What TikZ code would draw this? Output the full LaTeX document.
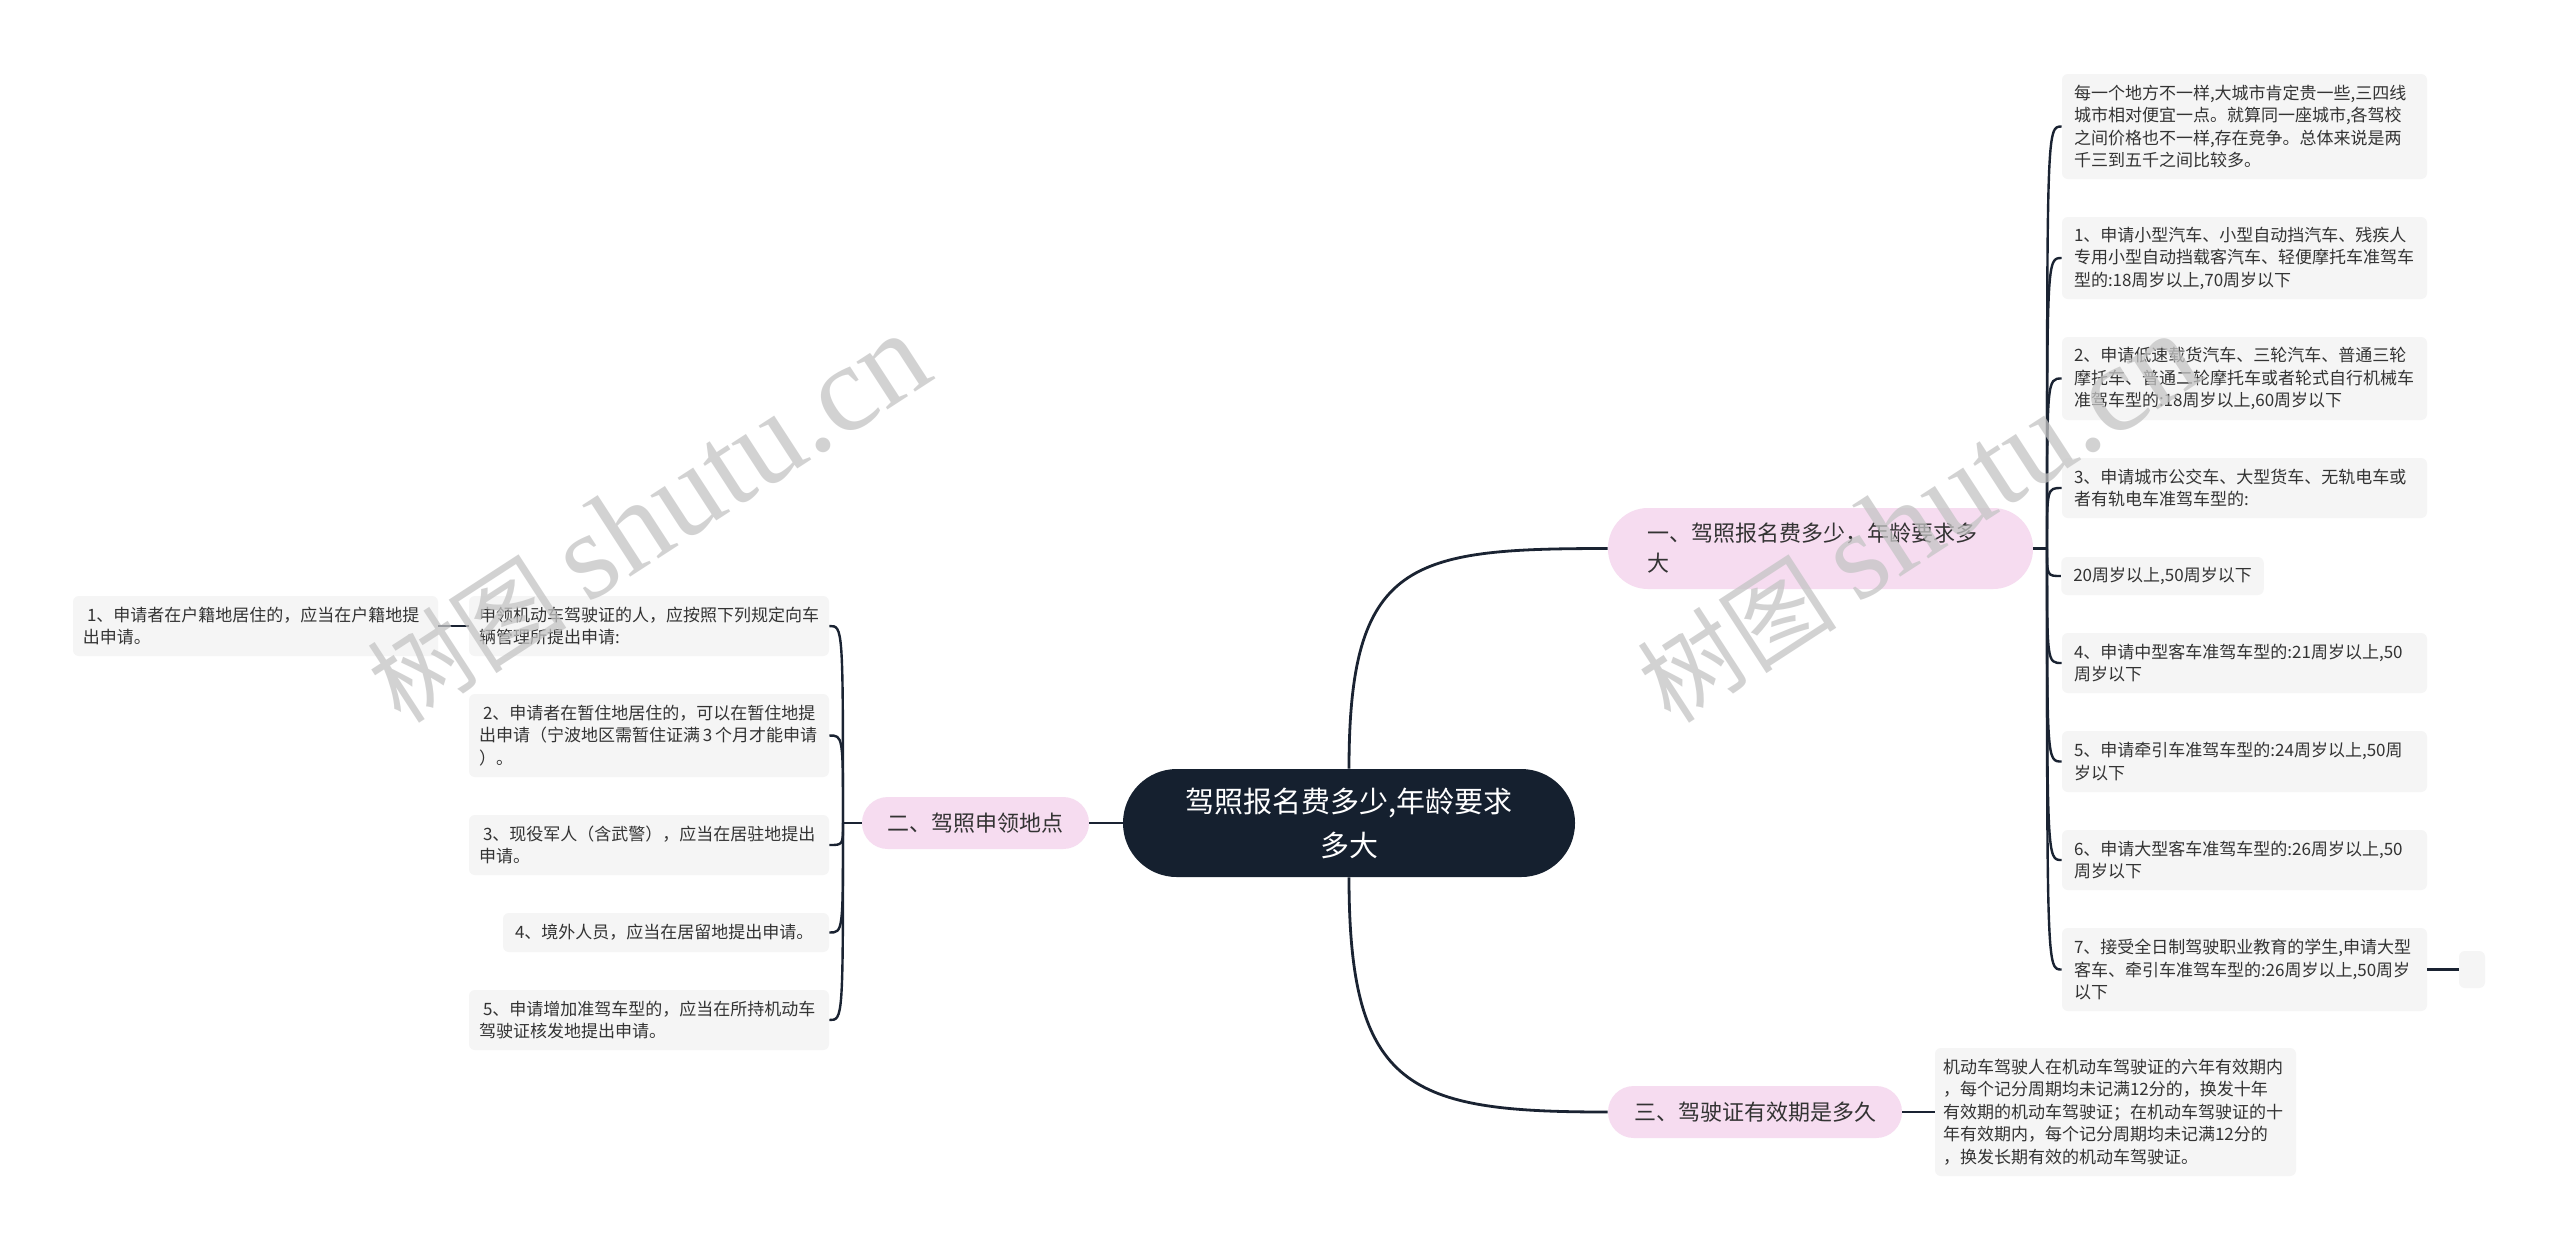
\documentclass[tikz,border=0pt]{standalone}
\usepackage{fontspec}
\setmainfont{Noto Sans CJK SC}
\newfontfamily\wmlatin{Liberation Serif}
\definecolor{rootbg}{HTML}{15202F}
\definecolor{pinkbg}{HTML}{F6DCF0}
\definecolor{leafbg}{HTML}{F5F5F5}
\definecolor{txt}{HTML}{333333}
\definecolor{wirec}{HTML}{1A2332}
\definecolor{wmc}{HTML}{C4C4C4}
\begin{document}
\begin{tikzpicture}[x=0.5pt,y=-0.5pt,
  rootnode/.style={fill=rootbg, text=white, rounded corners=26.9pt, minimum width=226pt, minimum height=54pt, inner sep=0pt, align=center, font=\fontsize{14.5pt}{22pt}\selectfont},
  pinknode/.style={fill=pinkbg, text=txt, inner sep=0pt, font=\fontsize{11pt}{15pt}\selectfont},
  leaf/.style={fill=leafbg, text=txt, rounded corners=3pt, inner xsep=6pt, inner ysep=0pt, align=left, font=\fontsize{8.5pt}{11.25pt}\selectfont},
  lleaf/.style={leaf, inner xsep=5pt},
  wire/.style={draw=wirec, line width=1.2pt},
  mainwire/.style={draw=wirec, line width=1.4pt},
  wmark/.style={text=wmc, opacity=0.75, rotate=33, inner sep=0pt}
]
\fill[white] (0,0) rectangle (2560,1250);
\useasboundingbox (0,0) rectangle (2560,1250);

% root and branches
\node[rootnode] (root) at (1349,823) {驾照报名费多少,年龄要求\\多大};
\node[pinknode, rounded corners=20pt, minimum width=212.5pt, minimum height=40.5pt, inner xsep=19.5pt, text width=173.5pt, align=left] (B1) at (1820.5,548.5) {一、驾照报名费多少，年龄要求多\\大};
\node[pinknode, rounded corners=12.9pt, minimum width=113.5pt, minimum height=26pt] (B2) at (975.5,823) {二、驾照申领地点};
\node[pinknode, rounded corners=12.9pt, minimum width=147pt, minimum height=26pt] (B3) at (1755,1112) {三、驾驶证有效期是多久};

% right leaves of branch 1
\node[leaf, minimum width=182.5pt, text width=170.5pt, minimum height=52.5pt] (L0) at (2244.5,126.5) {每一个地方不一样,大城市肯定贵一些,三四线\\城市相对便宜一点。就算同一座城市,各驾校\\之间价格也不一样,存在竞争。总体来说是两\\千三到五千之间比较多。};
\node[leaf, minimum width=182.5pt, text width=170.5pt, minimum height=41pt] (L1) at (2244.5,258) {1、申请小型汽车、小型自动挡汽车、残疾人\\专用小型自动挡载客汽车、轻便摩托车准驾车\\型的:18周岁以上,70周岁以下};
\node[leaf, minimum width=182.5pt, text width=170.5pt, minimum height=41.5pt] (L2) at (2244.5,378.5) {2、申请低速载货汽车、三轮汽车、普通三轮\\摩托车、普通二轮摩托车或者轮式自行机械车\\准驾车型的:18周岁以上,60周岁以下};
\node[leaf, minimum width=182.5pt, text width=170.5pt, minimum height=30pt] (L3) at (2244.5,488) {3、申请城市公交车、大型货车、无轨电车或\\者有轨电车准驾车型的:};
\node[leaf, minimum width=100.5pt, minimum height=19pt] (L4) at (2162.5,576) {20周岁以上,50周岁以下};
\node[leaf, minimum width=182.5pt, text width=170.5pt, minimum height=30pt] (L5) at (2244.5,663) {4、申请中型客车准驾车型的:21周岁以上,50\\周岁以下};
\node[leaf, minimum width=182.5pt, text width=170.5pt, minimum height=30.5pt] (L6) at (2244.5,761.5) {5、申请牵引车准驾车型的:24周岁以上,50周\\岁以下};
\node[leaf, minimum width=182.5pt, text width=170.5pt, minimum height=30pt] (L7) at (2244.5,860) {6、申请大型客车准驾车型的:26周岁以上,50\\周岁以下};
\node[leaf, minimum width=182.5pt, text width=170.5pt, minimum height=41.5pt] (L8) at (2244.5,969.5) {7、接受全日制驾驶职业教育的学生,申请大型\\客车、牵引车准驾车型的:26周岁以上,50周岁\\以下};
\node[leaf, minimum width=13pt, minimum height=18.5pt, inner xsep=0pt] (E) at (2472,969.5) {};

% left leaves of branch 2
\node[lleaf, minimum width=180pt, text width=170pt, minimum height=30pt] (C0) at (649,626) {申领机动车驾驶证的人，应按照下列规定向车\\辆管理所提出申请:};
\node[lleaf, minimum width=182.5pt, text width=172.5pt, minimum height=30pt] (C0a) at (255.5,626) {\hspace*{2pt}1、申请者在户籍地居住的，应当在户籍地提\\出申请。};
\node[lleaf, minimum width=180pt, text width=170pt, minimum height=41.5pt] (C1) at (649,735.5) {\hspace*{2pt}2、申请者在暂住地居住的，可以在暂住地提\\\mbox{出申请（宁波地区需暂住证满\,3\,个月才能申请}\\）。};
\node[lleaf, minimum width=180pt, text width=170pt, minimum height=30pt] (C2) at (649,845) {\hspace*{2pt}3、现役军人（含武警），应当在居驻地提出\\申请。};
\node[lleaf, minimum width=163pt, text width=151pt, inner xsep=6pt, minimum height=19.5pt] (C3) at (666,932.5) {4、境外人员，应当在居留地提出申请。};
\node[lleaf, minimum width=180pt, text width=170pt, minimum height=30pt] (C4) at (649,1020) {\hspace*{2pt}5、申请增加准驾车型的，应当在所持机动车\\驾驶证核发地提出申请。};

% leaf of branch 3
\node[lleaf, minimum width=180.5pt, text width=172.5pt, inner xsep=4pt, minimum height=64pt] (T) at (2115.5,1112) {机动车驾驶人在机动车驾驶证的六年有效期内\\，每个记分周期均未记满12分的，换发十年\\有效期的机动车驾驶证；在机动车驾驶证的十\\年有效期内，每个记分周期均未记满12分的\\，换发长期有效的机动车驾驶证。};

% main connectors
\draw[mainwire] (root.west) -- (B2.east);
\draw[mainwire] (root.north) .. controls (1349,560) and (1410,548.5) .. (B1.west);
\draw[mainwire] (root.south) .. controls (1349,1090) and (1410,1112) .. (B3.west);

% branch 1 hub
\coordinate (H1) at (2047,548.5);
\draw[wire] (B1.east) -- (H1);
\foreach \n in {L0,L1,L2,L3,L4,L5,L6,L7,L8}{
  \draw[wire] (H1) .. controls (H1 |- \n.west) and (H1 |- \n.west) .. (\n.west);
}
\draw[wire] (L8.east) -- (E.west);

% branch 2 hub
\coordinate (H2) at (843,823);
\draw[wire] (B2.west) -- (H2);
\foreach \n in {C0,C1,C2,C3,C4}{
  \draw[wire] (H2) .. controls (H2 |- \n.east) and (H2 |- \n.east) .. (\n.east);
}
\draw[wire] (C0.west) -- (C0a.east);

% branch 3
\draw[wire] (B3.east) -- (T.west);

% watermarks
\node[wmark] (wm1) at (648,519) {\fontsize{50pt}{50pt}\selectfont 树图 {\wmlatin\fontsize{62pt}{62pt}\selectfont shutu.cn}};
\node[wmark] (wm2) at (1918,519) {\fontsize{50pt}{50pt}\selectfont 树图 {\wmlatin\fontsize{62pt}{62pt}\selectfont shutu.cn}};
\end{tikzpicture}
\end{document}
